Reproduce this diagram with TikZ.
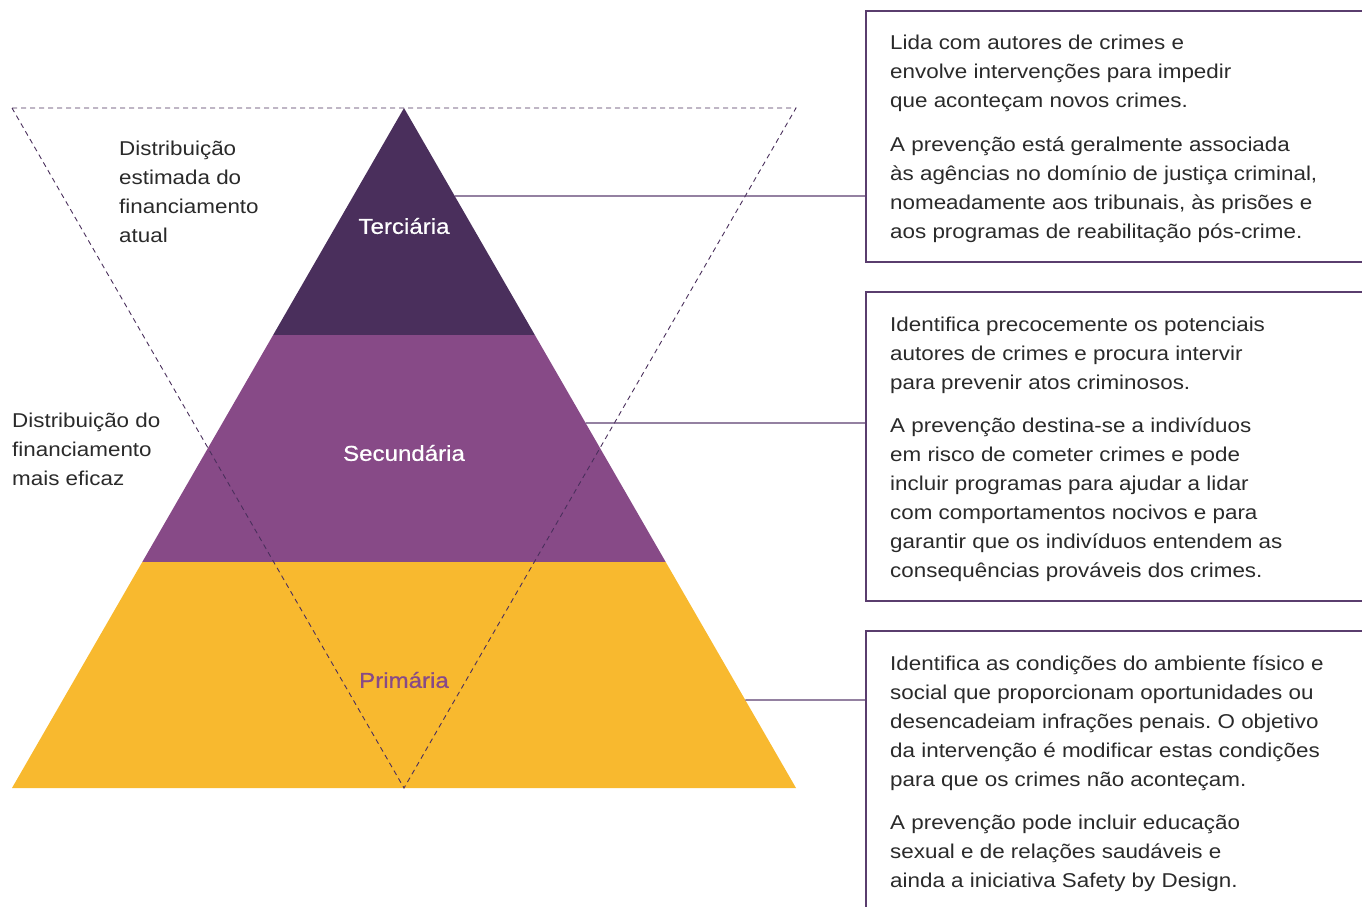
\documentclass[tikz,border=0pt]{standalone}
\usepackage{fontspec}
\setmainfont{Liberation Sans}[FakeStretch=1.12]
\newfontfamily\tierfont{Liberation Sans}[FakeStretch=1.12,FakeBold=0.7]
\usetikzlibrary{calc}
\frenchspacing
\definecolor{tertc}{HTML}{4A2F5C}
\definecolor{secc}{HTML}{874A87}
\definecolor{primc}{HTML}{F8B92F}
\definecolor{framec}{HTML}{5A3D6E}
\definecolor{txtc}{HTML}{2A2A2A}
\begin{document}
\begin{tikzpicture}[x=1pt,y=-1pt,
  body/.style={font=\fontsize{20}{29}\selectfont, text=txtc, align=left, anchor=north west, inner sep=0pt},
  tierlabel/.style={font=\tierfont\fontsize{21.5}{24}\selectfont, inner sep=0pt},
  framebox/.style={draw=framec, line width=1.3pt},
  connector/.style={draw=framec, line width=1.2pt},
  dashtri/.style={draw=tertc, line width=0.9pt, dash pattern=on 5pt off 4pt}]
\useasboundingbox (0,0) rectangle (1362,906);
% pyramid
\coordinate (apex) at (404,108);
\coordinate (bl) at (12,788);
\coordinate (br) at (796,788);
\coordinate (l1) at ($(apex)!227/680!(bl)$);
\coordinate (r1) at ($(apex)!227/680!(br)$);
\coordinate (l2) at ($(apex)!454/680!(bl)$);
\coordinate (r2) at ($(apex)!454/680!(br)$);
\fill[tertc] (apex) -- (r1) -- (l1) -- cycle;
\fill[secc] (l1) -- (r1) -- (r2) -- (l2) -- cycle;
\fill[primc] (l2) -- (r2) -- (br) -- (bl) -- cycle;
% dashed inverted triangle
\coordinate (dtl) at (12,108);
\coordinate (dtr) at (796,108);
\coordinate (dbot) at (404,788);
\draw[dashtri] (dtl) -- (dtr) -- (dbot) -- cycle;
% tier labels
\node[tierlabel, text=white] (tert) at (404,226) {Terciária};
\node[tierlabel, text=white] (sec) at (404,453) {Secundária};
\node[tierlabel, text=secc] (prim) at (404,680) {Primária};
% left labels
\node[body] (est) at (119,140.5) {Distribuição\\estimada do\\financiamento\\atual};
\node[body] (efi) at (12,412.5) {Distribuição do\\financiamento\\mais eficaz};
% boxes
\coordinate (b1tr) at (1366,11);
\coordinate (b1tl) at (866,11);
\coordinate (b1bl) at (866,262);
\coordinate (b1br) at (1366,262);
\draw[framebox] (b1tr) -- (b1tl) -- (b1bl) -- (b1br);
\coordinate (b2tr) at (1366,292);
\coordinate (b2tl) at (866,292);
\coordinate (b2bl) at (866,601);
\coordinate (b2br) at (1366,601);
\draw[framebox] (b2tr) -- (b2tl) -- (b2bl) -- (b2br);
\coordinate (b3tr) at (1366,631);
\coordinate (b3tl) at (866,631);
\coordinate (b3bl) at (866,912);
\draw[framebox] (b3tr) -- (b3tl) -- (b3bl);
% connectors
\coordinate (c1) at ($(apex)!88/680!(br)$);
\coordinate (c2) at ($(apex)!315/680!(br)$);
\coordinate (c3) at ($(apex)!592/680!(br)$);
\coordinate (e1) at (866,196);
\coordinate (e2) at (866,423);
\coordinate (e3) at (866,700);
\draw[connector] (c1) -- (e1);
\draw[connector] (c2) -- (e2);
\draw[connector] (c3) -- (e3);
% box texts
\node[body] (t1) at (890,34.5) {Lida com autores de crimes e\\envolve intervenções para impedir\\que aconteçam novos crimes.\\[15pt]
A prevenção está geralmente associada\\às agências no domínio de justiça criminal,\\nomeadamente aos tribunais, às prisões e\\aos programas de reabilitação pós-crime.};
\node[body] (t2) at (890,316.5) {Identifica precocemente os potenciais\\autores de crimes e procura intervir\\para prevenir atos criminosos.\\[14pt]
A prevenção destina-se a indivíduos\\em risco de cometer crimes e pode\\incluir programas para ajudar a lidar\\com comportamentos nocivos e para\\garantir que os indivíduos entendem as\\consequências prováveis dos crimes.};
\node[body] (t3) at (890,655.5) {Identifica as condições do ambiente físico e\\social que proporcionam oportunidades ou\\desencadeiam infrações penais. O objetivo\\da intervenção é modificar estas condições\\para que os crimes não aconteçam.\\[14pt]
A prevenção pode incluir educação\\sexual e de relações saudáveis e\\ainda a iniciativa Safety by Design.};
\end{tikzpicture}
\end{document}
